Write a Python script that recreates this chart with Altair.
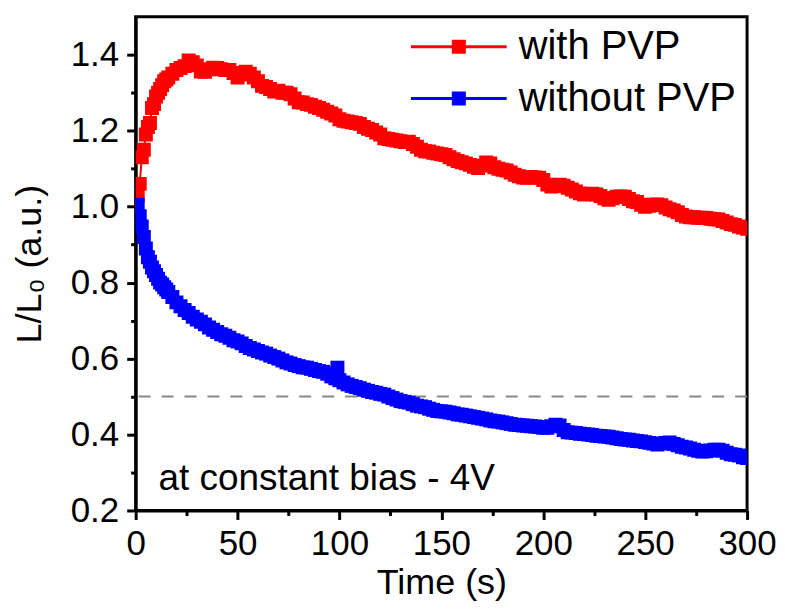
import altair as alt
import pandas as pd

# ---- data ----
red_t = [0, 1, 2, 3, 4, 5, 6, 7, 8, 9, 10, 11, 12, 13, 14, 15, 16, 18, 20, 22, 24, 26, 28, 30,
         32, 34, 36, 38, 40, 42, 44, 46, 48, 50, 52, 54, 56, 58, 60, 62, 64, 66, 68, 70, 72, 74,
         76, 78, 80, 82, 84, 86, 88, 90, 92, 94, 96, 98, 100, 102, 104, 106, 108, 110, 112, 114,
         116, 118, 120, 122, 124, 126, 128, 130, 132, 134, 136, 138, 140, 142, 144, 146, 148, 150,
         152, 154, 156, 158, 160, 162, 164, 166, 168, 170, 172, 174, 176, 178, 180, 182, 184, 186,
         188, 190, 192, 194, 196, 198, 200, 202, 204, 206, 208, 210, 212, 214, 216, 218, 220, 222,
         224, 226, 228, 230, 232, 234, 236, 238, 240, 242, 244, 246, 248, 250, 252, 254, 256, 258,
         260, 262, 264, 266, 268, 270, 272, 274, 276, 278, 280, 282, 284, 286, 288, 290, 292, 294,
         296, 298, 300]
red_v = [1.00, 1.03, 1.06, 1.13, 1.15, 1.19, 1.21, 1.22, 1.26, 1.27, 1.29, 1.30, 1.31, 1.32, 1.33,
         1.335, 1.34, 1.35, 1.36, 1.365, 1.37, 1.385, 1.38, 1.372, 1.356, 1.355, 1.362, 1.366, 1.365,
         1.362, 1.36, 1.36, 1.352, 1.34, 1.348, 1.355, 1.35, 1.34, 1.33, 1.318, 1.315, 1.31, 1.303,
         1.305, 1.30, 1.30, 1.296, 1.285, 1.275, 1.274, 1.27, 1.268, 1.263, 1.26, 1.255, 1.25, 1.245,
         1.24, 1.23, 1.226, 1.224, 1.222, 1.22, 1.218, 1.21, 1.205, 1.202, 1.195, 1.19, 1.18, 1.178,
         1.176, 1.174, 1.172, 1.17, 1.171, 1.165, 1.158, 1.15, 1.146, 1.145, 1.142, 1.14, 1.138,
         1.136, 1.13, 1.125, 1.12, 1.117, 1.114, 1.11, 1.105, 1.102, 1.108, 1.116, 1.114, 1.104,
         1.10, 1.097, 1.095, 1.09, 1.084, 1.08, 1.077, 1.076, 1.078, 1.077, 1.076, 1.07, 1.058,
         1.053, 1.055, 1.058, 1.055, 1.05, 1.045, 1.04, 1.035, 1.032, 1.033, 1.034, 1.032, 1.028,
         1.022, 1.018, 1.022, 1.026, 1.027, 1.026, 1.02, 1.014, 1.012, 1.005, 1.00, 1.002, 1.005,
         1.006, 1.004, 0.998, 0.993, 0.99, 0.985, 0.978, 0.974, 0.972, 0.972, 0.971, 0.971, 0.97,
         0.968, 0.967, 0.966, 0.962, 0.958, 0.954, 0.952, 0.948, 0.945, 0.942]

blue_t = [0, 1, 2, 3, 4, 5, 6, 7, 8, 9, 10, 11, 12, 13, 14, 15, 16, 18, 20, 22, 24, 26, 28, 30,
          32, 34, 36, 38, 40, 42, 44, 46, 48, 50, 52, 54, 56, 58, 60, 62, 64, 66, 68, 70, 72, 74,
          76, 78, 80, 82, 84, 86, 88, 90, 92, 94, 96, 98, 99, 100, 102, 104, 106, 108, 110, 112,
          114, 116, 118, 120, 122, 124, 126, 128, 130, 132, 134, 136, 138, 140, 142, 144, 146, 148,
          150, 152, 154, 156, 158, 160, 162, 164, 166, 168, 170, 172, 174, 176, 178, 180, 182, 184,
          186, 188, 190, 192, 194, 196, 198, 200, 202, 204, 206, 208, 210, 212, 214, 216, 218, 220,
          222, 224, 226, 228, 230, 232, 234, 236, 238, 240, 242, 244, 246, 248, 250, 252, 254, 256,
          258, 260, 262, 264, 266, 268, 270, 272, 274, 276, 278, 280, 282, 284, 286, 288, 290, 292,
          294, 296, 298, 300]
blue_v = [1.00, 1.005, 0.975, 0.948, 0.92, 0.89, 0.867, 0.855, 0.84, 0.83, 0.82, 0.81, 0.80, 0.795,
          0.788, 0.782, 0.775, 0.762, 0.748, 0.738, 0.728, 0.72, 0.71, 0.703, 0.697, 0.69, 0.682,
          0.676, 0.67, 0.664, 0.66, 0.655, 0.648, 0.645, 0.64, 0.633, 0.628, 0.624, 0.62, 0.616,
          0.613, 0.608, 0.604, 0.60, 0.595, 0.59, 0.587, 0.583, 0.58, 0.577, 0.576, 0.573, 0.57,
          0.567, 0.565, 0.56, 0.553, 0.548, 0.576, 0.543, 0.537, 0.532, 0.528, 0.525, 0.522, 0.518,
          0.515, 0.512, 0.51, 0.507, 0.505, 0.50, 0.496, 0.492, 0.488, 0.486, 0.484, 0.48, 0.476,
          0.474, 0.472, 0.468, 0.465, 0.462, 0.461, 0.46, 0.458, 0.456, 0.453, 0.452, 0.45, 0.448,
          0.446, 0.444, 0.442, 0.44, 0.437, 0.435, 0.434, 0.432, 0.43, 0.428, 0.426, 0.425, 0.424,
          0.423, 0.422, 0.421, 0.42, 0.418, 0.418, 0.422, 0.426, 0.424, 0.412, 0.406, 0.405, 0.404,
          0.402, 0.401, 0.40, 0.399, 0.397, 0.396, 0.395, 0.394, 0.392, 0.39, 0.388, 0.387, 0.386,
          0.384, 0.383, 0.382, 0.38, 0.378, 0.376, 0.374, 0.376, 0.378, 0.379, 0.375, 0.372, 0.368,
          0.366, 0.363, 0.36, 0.357, 0.355, 0.356, 0.358, 0.36, 0.36, 0.357, 0.352, 0.348, 0.347,
          0.345, 0.34, 0.338]

series_names = ["with PVP", "without PVP"]
series_colors = ["#FF0000", "#0000FF"]
x_ticks = [0, 25, 50, 75, 100, 125, 150, 175, 200, 225, 250, 275, 300]
y_ticks = [0.2, 0.3, 0.4, 0.5, 0.6, 0.7, 0.8, 0.9, 1.0, 1.1, 1.2, 1.3, 1.4]
half_level = [0.5]
note_text = ["at constant bias - 4V"]
note_x = [11.2]
note_y = [0.255]

df = pd.concat([
    pd.DataFrame({"t": red_t, "v": red_v, "series": series_names[0]}),
    pd.DataFrame({"t": blue_t, "v": blue_v, "series": series_names[1]}),
])
df_ref = pd.DataFrame({"v": half_level})
df_note = pd.DataFrame({"t": note_x, "v": note_y, "label": note_text})

FONT = "Liberation Sans"

xscale = alt.Scale(domain=[0, 300], nice=False, zero=False)
yscale = alt.Scale(domain=[0.2, 1.5], nice=False, zero=False)

xaxis = alt.Axis(
    title="Time (s)", values=x_ticks, grid=False, labelFlush=False,
    labelExpr="datum.value % 50 == 0 ? datum.label : ''",
    tickSize={"condition": {"test": "datum.value % 50 == 0", "value": 9}, "value": 5},
    labelPadding=7, titlePadding=4,
)
yaxis = alt.Axis(
    title="L/L\u2080 (a.u.)", values=y_ticks, grid=False, labelFlush=False,
    labelExpr="round(datum.value*10) % 2 == 0 ? format(datum.value, '.1f') : ''",
    tickSize={"condition": {"test": "round(datum.value*10) % 2 == 0", "value": 9}, "value": 5},
    labelPadding=8, titlePadding=22,
)

# legend glyph: a line through a small filled square (unit radius = 12 px)
legend_symbol = "M-4,0L4,0M-0.46,-0.46L0.46,-0.46L0.46,0.46L-0.46,0.46Z"

ref = alt.Chart(df_ref).mark_rule(color="#888888", strokeWidth=2, strokeDash=[12, 11]).encode(
    y=alt.Y("v:Q", scale=yscale, axis=yaxis)
)

lines = alt.Chart(df).mark_line(
    strokeWidth=2, clip=True,
    point=alt.OverlayMarkDef(shape="square", size=196, filled=True, opacity=1, clip=True),
).encode(
    x=alt.X("t:Q", scale=xscale, axis=xaxis),
    y=alt.Y("v:Q", scale=yscale, axis=yaxis),
    color=alt.Color(
        "series:N",
        scale=alt.Scale(domain=series_names, range=series_colors),
        legend=alt.Legend(
            title=None, orient="none", legendX=304, legendY=10,
            symbolType=legend_symbol, symbolSize=576, symbolStrokeWidth=3,
            symbolOpacity=1,
            labelFontSize=40, labelFont=FONT, labelColor="black", labelOffset=40,
            rowPadding=12, padding=0, labelLimit=400,
        ),
    ),
    detail="series:N",
)

note = alt.Chart(df_note).mark_text(
    align="left", baseline="alphabetic", fontSize=37, font=FONT, color="black"
).encode(
    x=alt.X("t:Q", scale=xscale),
    y=alt.Y("v:Q", scale=yscale),
    text="label:N",
)

chart = alt.layer(ref, lines, note).properties(
    width=613, height=495,
    autosize=alt.AutoSizeParams(type="none"),
    padding={"left": 128, "top": 8, "right": 30, "bottom": 100},
).configure_view(
    stroke="black", strokeWidth=3
).configure_axis(
    domainColor="black", domainWidth=3, tickColor="black", tickWidth=3,
    labelFont=FONT, labelFontSize=35, labelColor="black",
    titleFont=FONT, titleFontSize=36, titleColor="black", titleFontWeight="normal",
)

chart.save("out.html", embed_options={"renderer": "svg", "actions": False})
